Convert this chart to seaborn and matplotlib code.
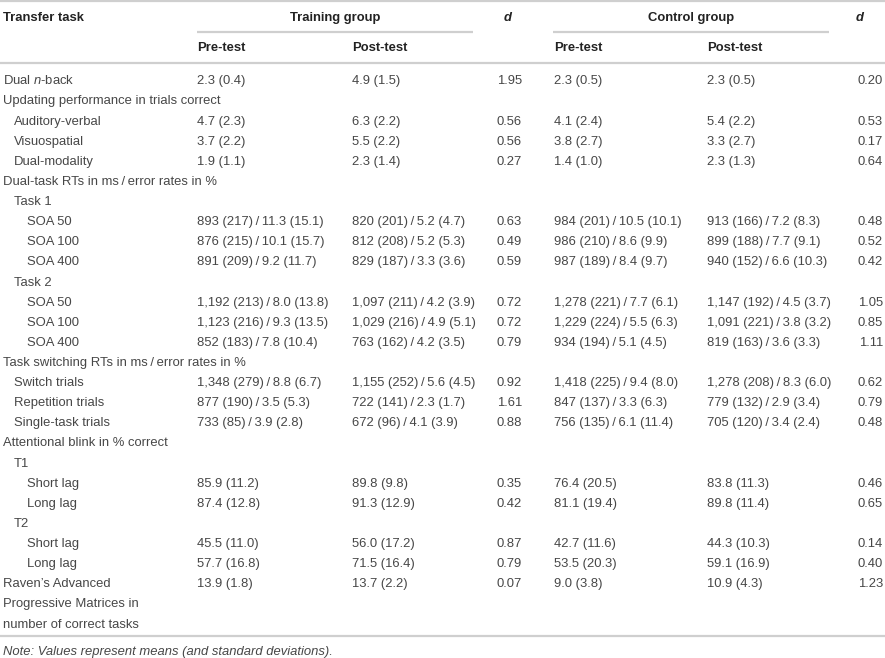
import matplotlib
matplotlib.use("Agg")
import matplotlib.pyplot as plt
import seaborn as sns

sns.set_theme(style="white")
plt.rcParams['font.family'] = ['Liberation Sans', 'DejaVu Sans']
plt.rcParams['mathtext.fontset'] = 'custom'
plt.rcParams['mathtext.rm'] = 'Liberation Sans'
plt.rcParams['mathtext.it'] = 'Liberation Sans:italic'

S = "\u2009/\u2009"

# ---- data ----
row_labels = [
    "Dual $n$-back",
    "Updating performance in trials correct",
    "Auditory-verbal", "Visuospatial", "Dual-modality",
    "Dual-task RTs in ms" + S + "error rates in %",
    "Task 1", "SOA 50", "SOA 100", "SOA 400",
    "Task 2", "SOA 50", "SOA 100", "SOA 400",
    "Task switching RTs in ms" + S + "error rates in %",
    "Switch trials", "Repetition trials", "Single-task trials",
    "Attentional blink in % correct",
    "T1", "Short lag", "Long lag",
    "T2", "Short lag", "Long lag",
    "Raven\u2019s Advanced\nProgressive Matrices in\nnumber of correct tasks",
]
row_indent = [0, 0, 1, 1, 1, 0, 1, 2, 2, 2, 1, 2, 2, 2, 0, 1, 1, 1, 0, 1, 2, 2, 1, 2, 2, 0]

train_pre = ["2.3 (0.4)", "", "4.7 (2.3)", "3.7 (2.2)", "1.9 (1.1)", "", "",
             "893 (217)/11.3 (15.1)", "876 (215)/10.1 (15.7)", "891 (209)/9.2 (11.7)", "",
             "1,192 (213)/8.0 (13.8)", "1,123 (216)/9.3 (13.5)", "852 (183)/7.8 (10.4)", "",
             "1,348 (279)/8.8 (6.7)", "877 (190)/3.5 (5.3)", "733 (85)/3.9 (2.8)", "", "",
             "85.9 (11.2)", "87.4 (12.8)", "", "45.5 (11.0)", "57.7 (16.8)", "13.9 (1.8)"]
train_post = ["4.9 (1.5)", "", "6.3 (2.2)", "5.5 (2.2)", "2.3 (1.4)", "", "",
              "820 (201)/5.2 (4.7)", "812 (208)/5.2 (5.3)", "829 (187)/3.3 (3.6)", "",
              "1,097 (211)/4.2 (3.9)", "1,029 (216)/4.9 (5.1)", "763 (162)/4.2 (3.5)", "",
              "1,155 (252)/5.6 (4.5)", "722 (141)/2.3 (1.7)", "672 (96)/4.1 (3.9)", "", "",
              "89.8 (9.8)", "91.3 (12.9)", "", "56.0 (17.2)", "71.5 (16.4)", "13.7 (2.2)"]
train_d = ["1.95", "", "0.56", "0.56", "0.27", "", "", "0.63", "0.49", "0.59", "",
           "0.72", "0.72", "0.79", "", "0.92", "1.61", "0.88", "", "", "0.35", "0.42", "",
           "0.87", "0.79", "0.07"]
ctrl_pre = ["2.3 (0.5)", "", "4.1 (2.4)", "3.8 (2.7)", "1.4 (1.0)", "", "",
            "984 (201)/10.5 (10.1)", "986 (210)/8.6 (9.9)", "987 (189)/8.4 (9.7)", "",
            "1,278 (221)/7.7 (6.1)", "1,229 (224)/5.5 (6.3)", "934 (194)/5.1 (4.5)", "",
            "1,418 (225)/9.4 (8.0)", "847 (137)/3.3 (6.3)", "756 (135)/6.1 (11.4)", "", "",
            "76.4 (20.5)", "81.1 (19.4)", "", "42.7 (11.6)", "53.5 (20.3)", "9.0 (3.8)"]
ctrl_post = ["2.3 (0.5)", "", "5.4 (2.2)", "3.3 (2.7)", "2.3 (1.3)", "", "",
             "913 (166)/7.2 (8.3)", "899 (188)/7.7 (9.1)", "940 (152)/6.6 (10.3)", "",
             "1,147 (192)/4.5 (3.7)", "1,091 (221)/3.8 (3.2)", "819 (163)/3.6 (3.3)", "",
             "1,278 (208)/8.3 (6.0)", "779 (132)/2.9 (3.4)", "705 (120)/3.4 (2.4)", "", "",
             "83.8 (11.3)", "89.8 (11.4)", "", "44.3 (10.3)", "59.1 (16.9)", "10.9 (4.3)"]
ctrl_d = ["0.20", "", "0.53", "0.17", "0.64", "", "", "0.48", "0.52", "0.42", "",
          "1.05", "0.85", "1.11", "", "0.62", "0.79", "0.48", "", "", "0.46", "0.65", "",
          "0.14", "0.40", "1.23"]

header_task = "Transfer task"
group_names = ["Training group", "Control group"]
sub_headers = ["Pre-test", "Post-test"]
d_header = "d"
note = "Note: Values represent means (and standard deviations)."

# ---- layout ----
W, H = 885, 658
fig = plt.figure(figsize=(W / 100, H / 100), dpi=100)
ax = fig.add_axes([0, 0, 1, 1])
ax.set_xlim(0, W)
ax.set_ylim(H, 0)
ax.axis("off")

body_c = "#474747"
head_c = "#222222"
rule_c = "#cfcfcf"
fs = 9.35
indent_x = [3, 14, 27]
x_tp, x_tq, x_td = 197, 352, 522
x_cp, x_cq, x_cd = 554, 707, 883
y0, dy = 80, 20.12
bo = 4.3  # baseline offset from row centre

def fixslash(s):
    return s.replace("/", S)

# rules
for xs, y in [([0, W], 1), ([197, 473], 32), ([553, 829], 32), ([0, W], 63), ([0, W], 636)]:
    ax.plot(xs, [y, y], color=rule_c, lw=1.6, solid_capstyle="butt")

# headers
hk = dict(fontsize=fs, fontweight="bold", color=head_c, va="baseline")
ax.text(3, 17 + bo, header_task, ha="left", **hk)
ax.text(335, 17 + bo, group_names[0], ha="center", **hk)
ax.text(691, 17 + bo, group_names[1], ha="center", **hk)
ax.text(508, 17 + bo, d_header, ha="center", style="italic", **hk)
ax.text(860, 17 + bo, d_header, ha="center", style="italic", **hk)
ax.text(x_tp, 47 + bo, sub_headers[0], ha="left", **hk)
ax.text(x_tq, 47 + bo, sub_headers[1], ha="left", **hk)
ax.text(x_cp, 47 + bo, sub_headers[0], ha="left", **hk)
ax.text(x_cq, 47 + bo, sub_headers[1], ha="left", **hk)

bk = dict(fontsize=fs, color=body_c, va="baseline")
for i, lab in enumerate(row_labels):
    y = y0 + i * dy + bo
    for j, ln in enumerate(lab.split("\n")):
        ax.text(indent_x[row_indent[i]], y + j * dy, ln, ha="left", **bk)
    ax.text(x_tp, y, fixslash(train_pre[i]), ha="left", **bk)
    ax.text(x_tq, y, fixslash(train_post[i]), ha="left", **bk)
    ax.text(x_td, y, train_d[i], ha="right", **bk)
    ax.text(x_cp, y, fixslash(ctrl_pre[i]), ha="left", **bk)
    ax.text(x_cq, y, fixslash(ctrl_post[i]), ha="left", **bk)
    ax.text(x_cd, y, ctrl_d[i], ha="right", **bk)

ax.text(3, 651 + bo, note, ha="left", style="italic", **bk)

fig.savefig("out.png", dpi=100)
